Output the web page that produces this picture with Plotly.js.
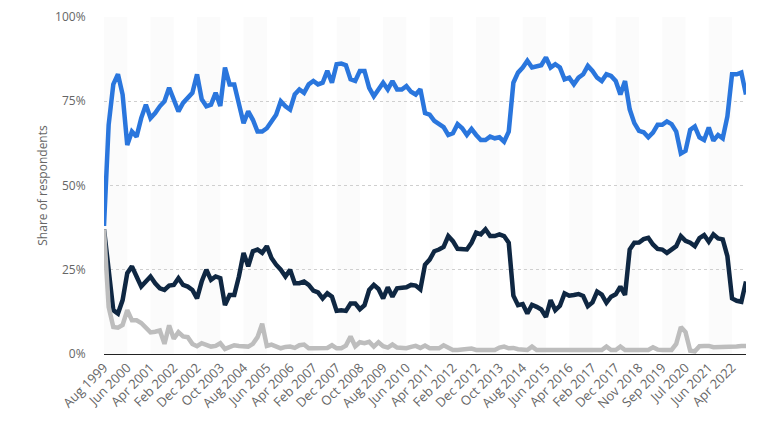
<!DOCTYPE html>
<html>
<head>
<meta charset="utf-8">
<script src="https://cdn.plot.ly/plotly-3.0.1.min.js"></script>
<style>html,body{margin:0;padding:0;background:#fff;}#chart{width:768px;height:432px;}</style>
</head>
<body>
<div id="chart"></div>
<script>
const months = [
"Aug 1999","Oct 1999","Dec 1999",
"Feb 2000","Apr 2000","Jun 2000","Aug 2000","Oct 2000","Dec 2000",
"Feb 2001","Apr 2001","Jun 2001","Aug 2001","Oct 2001","Dec 2001",
"Feb 2002","Apr 2002","Jun 2002","Aug 2002","Oct 2002","Dec 2002",
"Feb 2003","Apr 2003","Jun 2003","Aug 2003","Oct 2003","Dec 2003",
"Feb 2004","Apr 2004","Jun 2004","Aug 2004","Oct 2004","Dec 2004",
"Feb 2005","Apr 2005","Jun 2005","Aug 2005","Oct 2005","Dec 2005",
"Feb 2006","Apr 2006","Jun 2006","Aug 2006","Oct 2006","Dec 2006",
"Feb 2007","Apr 2007","Jun 2007","Aug 2007","Oct 2007","Dec 2007",
"Feb 2008","Apr 2008","Jun 2008","Aug 2008","Oct 2008","Dec 2008",
"Feb 2009","Apr 2009","Jun 2009","Aug 2009","Oct 2009","Dec 2009",
"Feb 2010","Apr 2010","Jun 2010","Aug 2010","Oct 2010","Dec 2010",
"Feb 2011","Apr 2011","Jun 2011","Aug 2011","Oct 2011","Dec 2011",
"Feb 2012","Apr 2012","Jun 2012","Aug 2012","Oct 2012","Dec 2012",
"Feb 2013","Apr 2013","Jun 2013","Aug 2013","Oct 2013","Dec 2013",
"Feb 2014","Apr 2014","Jun 2014","Aug 2014","Oct 2014","Dec 2014",
"Feb 2015","Apr 2015","Jun 2015","Aug 2015","Oct 2015","Dec 2015",
"Feb 2016","Apr 2016","Jun 2016","Aug 2016","Oct 2016","Dec 2016",
"Feb 2017","Apr 2017","Jun 2017","Aug 2017","Oct 2017","Dec 2017",
"Feb 2018","Apr 2018","Jul 2018","Sep 2018","Nov 2018",
"Jan 2019","Mar 2019","May 2019","Jul 2019","Sep 2019","Nov 2019",
"Jan 2020","Mar 2020","May 2020","Jul 2020","Sep 2020","Nov 2020",
"Feb 2021","Apr 2021","Jun 2021","Aug 2021","Oct 2021","Dec 2021",
"Feb 2022","Apr 2022","Jun 2022","Aug 2022","Oct 2022"
];

const tickLabels = ["Aug 1999","Jun 2000","Apr 2001","Feb 2002","Dec 2002","Oct 2003","Aug 2004",
"Jun 2005","Apr 2006","Feb 2007","Dec 2007","Oct 2008","Aug 2009","Jun 2010","Apr 2011",
"Feb 2012","Dec 2012","Oct 2013","Aug 2014","Jun 2015","Apr 2016","Feb 2017","Dec 2017",
"Nov 2018","Sep 2019","Jul 2020","Jun 2021","Apr 2022"];

const seriesBlue = [
38,68,80,83,77,62,66,64.5,70,74,
70,71.5,73.5,75,79,75.5,72,74.5,76,77.5,
83,75.6,73.5,74,77.5,73.6,85,80,80,73.5,
68.5,72,69.5,66,66,67,69,71,75,73.5,
72.5,77,78.5,77.5,80,81,80,80.5,84,80.5,
86,86.2,85.7,81.5,81,84,84,79,76.5,78.5,
80.5,78.5,81,78.5,78.5,79.5,77.8,77,78.6,71.5,
71,69.2,68.2,67.3,65,65.5,68.2,67,65,66.8,
65,63.5,63.5,64.5,64,64.3,63,66,80.5,83.5,
85,87,85,85.5,85.7,88,85,86,85,81.5,
82,80,82,83,85.5,84,82,81,83,82.5,
81,77,81,72.6,68.5,66.2,65.8,64.3,65.7,68,
68,69,68.2,66,59.5,60.3,66.5,67.5,64.3,63.5,
67.2,63.3,65,64,70.5,83,83,83.5,77
];

const seriesNavy = [
37,24,13,12,16,24,26,23,20,21.5,
23,21,19.5,19,20.3,20.5,22.5,20.5,20,19,
16.5,21.5,25,22,23,22.5,14.5,17.5,17.5,23,
30,26,30.5,31,30,32,28.5,26.5,25,
23,25,21,21,21.5,20.5,18.8,18.3,16.5,18,
17,12.8,13,12.8,15,15,13.3,14.5,19,20.5,
19.3,16.5,19.8,17,19.5,19.8,19.8,20.5,20.3,19.2,
26.5,28,30.5,31,31.8,35,33.5,31.2,31,31,
33,36,35.5,37,35,35,35.5,35,33,17.3,
14.5,14.8,12,14.6,14,13.2,11,16,13,14.3,
18,17.3,17.5,17.8,17.2,14.2,15.3,18.5,17.6,15.2,
17,17.7,20,17.5,31,33,33.1,34.1,34.5,32.5,
31.2,31,30,31,32,35,33.6,33,32,34.4,
35.3,33.3,35.5,34.3,34,29,16.5,15.8,15.5,21.5
];

const seriesGray = [
37,14,8,7.8,8.6,13,10,10,9.2,8,
6.4,6.6,7,3,8.5,4.5,6.5,5.2,5,3,
2.3,3.2,2.8,2.2,2.4,3.2,1.5,2.1,2.6,2.4,
2.2,2.2,3,5,9,2.4,2.8,2.3,1.7,2.1,
2.2,1.8,2.6,2.8,1.7,1.7,1.7,1.9,1.8,2.6,
1.7,1.7,2.5,5.2,2.3,3.5,3.2,3.6,2.2,3.5,
2.3,1.9,2.8,1.9,1.7,1.7,2.1,2.4,1.8,2.5,
1.7,1.7,1.7,2.6,1.7,1.2,1.2,1.2,1.5,1.6,
1.2,1.2,1.2,1.2,1.2,1.9,2.2,1.7,1.8,1.4,
1.2,1.2,2.2,1.2,1.2,1.2,1.2,1.2,1.2,1.2,
1.2,1.2,1.2,1.2,1.2,1.2,1.2,1.2,2.2,1.2,
1.2,2.2,1.2,1.2,1.2,1.2,1.2,1.2,2.0,1.3,
1.2,1.2,1.2,3,8,6.5,1,0.8,2.3,2.4,
2.4,2,2,2.2,2.2,1.9,2.2,2.4,2.4
];

// alternating background bands between every other pair of labelled ticks
const shapes = [];
for (let k = 0; k + 1 < tickLabels.length; k += 2) {
  shapes.push({
    type: 'rect', xref: 'x', yref: 'paper',
    x0: months.indexOf(tickLabels[k]), x1: months.indexOf(tickLabels[k + 1]),
    y0: 0, y1: 1, fillcolor: '#fbfbfb', line: {width: 0}, layer: 'below'
  });
}

const lineBase = {type: 'scatter', mode: 'lines', x: months, hoverinfo: 'x+y'};
const traces = [
  Object.assign({}, lineBase, {name: 'Blue', y: seriesBlue, line: {color: '#2a76dd', width: 4.5, shape: 'linear'}}),
  Object.assign({}, lineBase, {name: 'Navy', y: seriesNavy, line: {color: '#0f2742', width: 4.5, shape: 'linear'}}),
  Object.assign({}, lineBase, {name: 'Gray', y: seriesGray, line: {color: '#bdbdbd', width: 4.5, shape: 'linear'}})
];

const layout = {
  width: 768, height: 432,
  margin: {l: 104, r: 22, t: 17, b: 78},
  paper_bgcolor: '#ffffff', plot_bgcolor: '#ffffff',
  showlegend: false,
  font: {family: 'Open Sans, Arial, sans-serif', color: '#666666', size: 12},
  shapes: shapes,
  xaxis: {
    type: 'category', categoryorder: 'array', categoryarray: months,
    range: [0, months.length - 1],
    tickmode: 'array', tickvals: tickLabels, ticktext: tickLabels,
    tickangle: -45, showgrid: false, zeroline: false,
    showline: true, linecolor: '#222222', linewidth: 1,
    ticks: '', tickfont: {size: 13, color: '#666666'}
  },
  yaxis: {
    range: [0, 100], tickvals: [0, 25, 50, 75, 100],
    ticktext: ['0%', '25%', '50%', '75%', '100%'],
    showgrid: true, gridcolor: '#cfcfcf', griddash: 'dot', gridwidth: 1,
    zeroline: false, showline: false,
    ticks: 'outside', ticklen: 15, tickcolor: 'rgba(0,0,0,0)',
    tickfont: {size: 12, color: '#666666'},
    title: {text: 'Share of respondents', font: {size: 12, color: '#666666'}, standoff: 4}
  }
};

Plotly.newPlot('chart', traces, layout, {displayModeBar: false, staticPlot: true});
</script>
</body>
</html>
